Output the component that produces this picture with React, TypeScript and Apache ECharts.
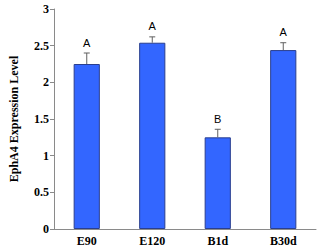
import React, { useEffect, useRef } from "react";
import * as echarts from "echarts";

const categories = ["E90", "E120", "B1d", "B30d"];
const values = [2.25, 2.54, 1.25, 2.44];
const errors = [0.15, 0.08, 0.11, 0.1];
const letters = ["A", "A", "B", "A"];
const yTicks = [0, 0.5, 1, 1.5, 2, 2.5, 3];

export default function App() {
  const ref = useRef<HTMLDivElement>(null);
  useEffect(() => {
    document.body.style.margin = "0";
    const chart = echarts.init(ref.current!, undefined, { renderer: "svg" });
    chart.setOption({
      animation: false,
      grid: { left: 48, right: 4, top: 9, bottom: 22 },
      xAxis: {
        type: "category",
        data: categories,
        axisLine: { lineStyle: { color: "#8a8a8a", width: 1 } },
        axisTick: { alignWithLabel: true, length: 3, lineStyle: { color: "#8a8a8a" } },
        axisLabel: {
          fontFamily: "Liberation Serif",
          fontWeight: "bold",
          fontSize: 12,
          color: "#000",
          margin: 6,
        },
      },
      yAxis: {
        type: "value",
        min: 0,
        max: 3,
        interval: 0.5,
        name: "EphA4 Expression Level",
        nameLocation: "middle",
        nameGap: 34,
        nameTextStyle: {
          fontFamily: "Liberation Serif",
          fontWeight: "bold",
          fontSize: 12,
          color: "#000",
        },
        splitLine: { show: false },
        axisLine: { show: true, lineStyle: { color: "#8a8a8a", width: 1 } },
        axisTick: { show: true, inside: false, length: 4, lineStyle: { color: "#8a8a8a" } },
        axisLabel: {
          fontFamily: "Liberation Serif",
          fontWeight: "bold",
          fontSize: 12,
          color: "#000",
          margin: 5,
          formatter: (v: number) => (yTicks.includes(v) ? String(v) : ""),
        },
      },
      series: [
        {
          type: "bar",
          data: values,
          barWidth: "40%",
          itemStyle: { color: "#3366ff", borderColor: "#2a3f8f", borderWidth: 1 },
        },
        {
          type: "custom",
          data: values.map((v, i) => [i, v, v + errors[i]]),
          renderItem: (params: any, api: any) => {
            const i = api.value(0);
            const base = api.coord([i, api.value(1)]);
            const top = api.coord([i, api.value(2)]);
            const x = base[0];
            const cap = 3;
            const stroke = { stroke: "#606060", lineWidth: 1 };
            return {
              type: "group",
              children: [
                { type: "line", shape: { x1: x, y1: base[1], x2: x, y2: top[1] }, style: stroke },
                { type: "line", shape: { x1: x - cap, y1: top[1], x2: x + cap, y2: top[1] }, style: stroke },
                {
                  type: "text",
                  x: x,
                  y: top[1] - 5,
                  style: {
                    text: letters[params.dataIndex],
                    fontFamily: "Liberation Sans",
                    fontSize: 11,
                    fill: "#000",
                    align: "center",
                    verticalAlign: "bottom",
                  },
                },
              ],
            };
          },
          z: 10,
        },
      ],
    });
    return () => chart.dispose();
  }, []);
  return <div ref={ref} style={{ width: 320, height: 251 }} />;
}
